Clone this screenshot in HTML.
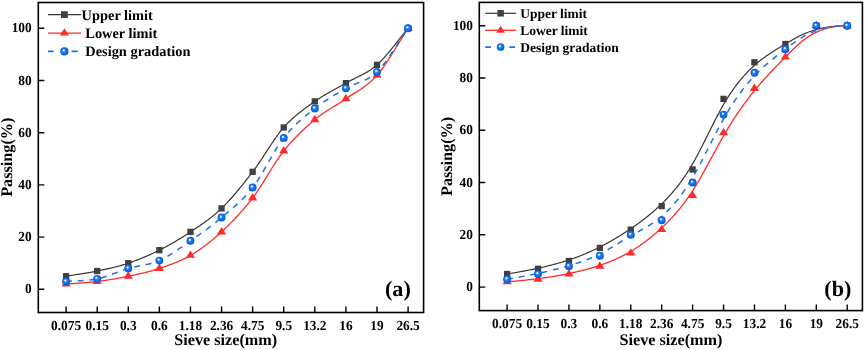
<!DOCTYPE html>
<html><head><meta charset="utf-8"><title>Gradation curves</title>
<style>html,body{margin:0;padding:0;background:#fff;}svg{display:block;text-rendering:geometricPrecision;will-change:transform;}</style>
</head><body>
<svg width="865" height="350" viewBox="0 0 865 350">
<defs>
<radialGradient id="ballg" cx="0.5" cy="0.5" r="0.5" fx="0.38" fy="0.34">
<stop offset="0" stop-color="#ffffff"/>
<stop offset="0.16" stop-color="#d8e8ff"/>
<stop offset="0.38" stop-color="#2a82f2"/>
<stop offset="0.8" stop-color="#0a66e6"/>
<stop offset="1" stop-color="#0556d2"/>
</radialGradient>
</defs>
<rect width="865" height="350" fill="#fff"/>
<path d="M66.10 276.25L66.88 276.12L67.65 275.99L68.43 275.87L69.21 275.74L69.99 275.62L70.76 275.49L71.54 275.37L72.32 275.25L73.10 275.13L73.87 275.01L74.65 274.89L75.43 274.77L76.20 274.65L76.98 274.53L77.76 274.41L78.54 274.29L79.31 274.17L80.09 274.05L80.87 273.93L81.64 273.80L82.42 273.68L83.20 273.56L83.98 273.43L84.75 273.31L85.53 273.18L86.31 273.05L87.09 272.92L87.86 272.79L88.64 272.65L89.42 272.52L90.19 272.38L90.97 272.24L91.75 272.10L92.53 271.95L93.30 271.81L94.08 271.66L94.86 271.51L95.64 271.35L96.41 271.19L97.19 271.03L97.97 270.87L98.74 270.70L99.52 270.54L100.30 270.38L101.08 270.21L101.85 270.05L102.63 269.88L103.41 269.71L104.19 269.55L104.96 269.38L105.74 269.21L106.52 269.04L107.29 268.86L108.07 268.69L108.85 268.51L109.63 268.34L110.40 268.16L111.18 267.97L111.96 267.79L112.73 267.60L113.51 267.42L114.29 267.22L115.07 267.03L115.84 266.83L116.62 266.63L117.40 266.43L118.18 266.22L118.95 266.01L119.73 265.80L120.51 265.59L121.28 265.37L122.06 265.14L122.84 264.91L123.62 264.68L124.39 264.45L125.17 264.21L125.95 263.96L126.73 263.71L127.50 263.46L128.28 263.20L129.06 262.94L129.83 262.67L130.61 262.40L131.39 262.13L132.17 261.85L132.94 261.58L133.72 261.29L134.50 261.01L135.28 260.72L136.05 260.43L136.83 260.13L137.61 259.83L138.38 259.53L139.16 259.23L139.94 258.92L140.72 258.61L141.49 258.29L142.27 257.97L143.05 257.65L143.82 257.33L144.60 257.00L145.38 256.67L146.16 256.33L146.93 256.00L147.71 255.66L148.49 255.31L149.27 254.96L150.04 254.61L150.82 254.26L151.60 253.90L152.37 253.54L153.15 253.18L153.93 252.81L154.71 252.44L155.48 252.07L156.26 251.69L157.04 251.31L157.82 250.93L158.59 250.54L159.37 250.15L160.15 249.76L160.92 249.36L161.70 248.96L162.48 248.56L163.26 248.15L164.03 247.74L164.81 247.33L165.59 246.91L166.37 246.49L167.14 246.07L167.92 245.65L168.70 245.22L169.47 244.78L170.25 244.35L171.03 243.91L171.81 243.47L172.58 243.02L173.36 242.57L174.14 242.12L174.92 241.67L175.69 241.21L176.47 240.75L177.25 240.28L178.02 239.81L178.80 239.34L179.58 238.87L180.36 238.39L181.13 237.91L181.91 237.42L182.69 236.94L183.46 236.45L184.24 235.95L185.02 235.45L185.80 234.95L186.57 234.45L187.35 233.94L188.13 233.43L188.91 232.92L189.68 232.40L190.46 231.88L191.24 231.36L192.01 230.84L192.79 230.32L193.57 229.80L194.35 229.28L195.12 228.76L195.90 228.24L196.68 227.72L197.46 227.20L198.23 226.68L199.01 226.16L199.79 225.63L200.56 225.10L201.34 224.56L202.12 224.03L202.90 223.49L203.67 222.94L204.45 222.39L205.23 221.84L206.00 221.28L206.78 220.71L207.56 220.14L208.34 219.56L209.11 218.98L209.89 218.38L210.67 217.78L211.45 217.18L212.22 216.56L213.00 215.94L213.78 215.30L214.55 214.66L215.33 214.01L216.11 213.34L216.89 212.67L217.66 211.99L218.44 211.29L219.22 210.58L220.00 209.87L220.77 209.13L221.55 208.39L222.33 207.63L223.10 206.87L223.88 206.09L224.66 205.30L225.44 204.50L226.21 203.69L226.99 202.87L227.77 202.04L228.55 201.20L229.32 200.36L230.10 199.50L230.88 198.63L231.65 197.76L232.43 196.88L233.21 195.99L233.99 195.09L234.76 194.18L235.54 193.27L236.32 192.35L237.09 191.43L237.87 190.49L238.65 189.55L239.43 188.61L240.20 187.66L240.98 186.70L241.76 185.74L242.54 184.77L243.31 183.80L244.09 182.82L244.87 181.84L245.64 180.86L246.42 179.87L247.20 178.88L247.98 177.88L248.75 176.88L249.53 175.88L250.31 174.88L251.09 173.87L251.86 172.86L252.64 171.85L253.42 170.83L254.19 169.79L254.97 168.73L255.75 167.65L256.53 166.55L257.30 165.44L258.08 164.32L258.86 163.18L259.64 162.04L260.41 160.88L261.19 159.71L261.97 158.54L262.74 157.36L263.52 156.17L264.30 154.98L265.08 153.79L265.85 152.59L266.63 151.40L267.41 150.20L268.19 149.01L268.96 147.82L269.74 146.64L270.52 145.46L271.29 144.29L272.07 143.12L272.85 141.97L273.63 140.83L274.40 139.69L275.18 138.58L275.96 137.47L276.73 136.38L277.51 135.31L278.29 134.26L279.07 133.22L279.84 132.21L280.62 131.21L281.40 130.24L282.18 129.30L282.95 128.37L283.73 127.48L284.51 126.61L285.28 125.75L286.06 124.92L286.84 124.09L287.62 123.29L288.39 122.50L289.17 121.73L289.95 120.97L290.73 120.22L291.50 119.49L292.28 118.77L293.06 118.06L293.83 117.37L294.61 116.68L295.39 116.01L296.17 115.35L296.94 114.70L297.72 114.06L298.50 113.42L299.27 112.80L300.05 112.18L300.83 111.57L301.61 110.97L302.38 110.38L303.16 109.79L303.94 109.21L304.72 108.63L305.49 108.06L306.27 107.49L307.05 106.93L307.82 106.37L308.60 105.81L309.38 105.25L310.16 104.70L310.93 104.14L311.71 103.59L312.49 103.04L313.27 102.49L314.04 101.93L314.82 101.38L315.60 100.83L316.37 100.29L317.15 99.76L317.93 99.24L318.71 98.72L319.48 98.22L320.26 97.72L321.04 97.22L321.82 96.74L322.59 96.26L323.37 95.79L324.15 95.32L324.92 94.86L325.70 94.41L326.48 93.96L327.26 93.51L328.03 93.07L328.81 92.63L329.59 92.19L330.37 91.76L331.14 91.32L331.92 90.90L332.70 90.47L333.47 90.04L334.25 89.62L335.03 89.19L335.81 88.77L336.58 88.34L337.36 87.92L338.14 87.49L338.91 87.07L339.69 86.64L340.47 86.21L341.25 85.78L342.02 85.34L342.80 84.90L343.58 84.46L344.36 84.01L345.13 83.56L345.91 83.11L346.69 82.66L347.46 82.22L348.24 81.79L349.02 81.37L349.80 80.95L350.57 80.54L351.35 80.14L352.13 79.75L352.91 79.36L353.68 78.97L354.46 78.59L355.24 78.20L356.01 77.82L356.79 77.44L357.57 77.06L358.35 76.68L359.12 76.29L359.90 75.91L360.68 75.51L361.46 75.12L362.23 74.71L363.01 74.31L363.79 73.89L364.56 73.46L365.34 73.03L366.12 72.59L366.90 72.13L367.67 71.66L368.45 71.18L369.23 70.69L370.00 70.19L370.78 69.66L371.56 69.13L372.34 68.57L373.11 68.00L373.89 67.41L374.67 66.80L375.45 66.17L376.22 65.51L377.00 64.84L377.78 64.14L378.55 63.43L379.33 62.69L380.11 61.93L380.89 61.15L381.66 60.35L382.44 59.53L383.22 58.70L384.00 57.85L384.77 56.99L385.55 56.11L386.33 55.22L387.10 54.32L387.88 53.40L388.66 52.48L389.44 51.54L390.21 50.59L390.99 49.64L391.77 48.68L392.54 47.71L393.32 46.74L394.10 45.76L394.88 44.78L395.65 43.79L396.43 42.81L397.21 41.82L397.99 40.83L398.76 39.84L399.54 38.85L400.32 37.86L401.09 36.88L401.87 35.90L402.65 34.93L403.43 33.96L404.20 32.99L404.98 32.04L405.76 31.09L406.54 30.15L407.31 29.22L408.09 28.30" fill="none" stroke="#363636" stroke-width="1.2"/>
<path d="M66.10 284.08L66.88 284.02L67.65 283.95L68.43 283.89L69.21 283.83L69.99 283.77L70.76 283.71L71.54 283.66L72.32 283.60L73.10 283.54L73.87 283.49L74.65 283.43L75.43 283.38L76.20 283.32L76.98 283.27L77.76 283.22L78.54 283.16L79.31 283.11L80.09 283.05L80.87 282.99L81.64 282.94L82.42 282.88L83.20 282.82L83.98 282.76L84.75 282.70L85.53 282.64L86.31 282.58L87.09 282.51L87.86 282.44L88.64 282.38L89.42 282.31L90.19 282.23L90.97 282.16L91.75 282.08L92.53 282.00L93.30 281.92L94.08 281.84L94.86 281.75L95.64 281.66L96.41 281.57L97.19 281.47L97.97 281.37L98.74 281.27L99.52 281.17L100.30 281.07L101.08 280.96L101.85 280.85L102.63 280.74L103.41 280.63L104.19 280.52L104.96 280.41L105.74 280.29L106.52 280.18L107.29 280.06L108.07 279.94L108.85 279.82L109.63 279.70L110.40 279.57L111.18 279.44L111.96 279.32L112.73 279.19L113.51 279.05L114.29 278.92L115.07 278.79L115.84 278.65L116.62 278.51L117.40 278.37L118.18 278.23L118.95 278.09L119.73 277.95L120.51 277.80L121.28 277.65L122.06 277.50L122.84 277.35L123.62 277.20L124.39 277.05L125.17 276.89L125.95 276.73L126.73 276.57L127.50 276.41L128.28 276.25L129.06 276.09L129.83 275.92L130.61 275.76L131.39 275.60L132.17 275.43L132.94 275.27L133.72 275.10L134.50 274.93L135.28 274.77L136.05 274.60L136.83 274.43L137.61 274.26L138.38 274.08L139.16 273.91L139.94 273.73L140.72 273.56L141.49 273.38L142.27 273.19L143.05 273.01L143.82 272.82L144.60 272.64L145.38 272.44L146.16 272.25L146.93 272.05L147.71 271.85L148.49 271.65L149.27 271.44L150.04 271.23L150.82 271.02L151.60 270.81L152.37 270.59L153.15 270.36L153.93 270.13L154.71 269.90L155.48 269.67L156.26 269.43L157.04 269.18L157.82 268.93L158.59 268.68L159.37 268.42L160.15 268.16L160.92 267.90L161.70 267.64L162.48 267.37L163.26 267.11L164.03 266.85L164.81 266.58L165.59 266.31L166.37 266.04L167.14 265.77L167.92 265.49L168.70 265.22L169.47 264.94L170.25 264.65L171.03 264.37L171.81 264.08L172.58 263.78L173.36 263.48L174.14 263.18L174.92 262.87L175.69 262.56L176.47 262.24L177.25 261.92L178.02 261.59L178.80 261.26L179.58 260.92L180.36 260.57L181.13 260.22L181.91 259.86L182.69 259.49L183.46 259.11L184.24 258.73L185.02 258.34L185.80 257.94L186.57 257.54L187.35 257.12L188.13 256.70L188.91 256.26L189.68 255.82L190.46 255.37L191.24 254.91L192.01 254.44L192.79 253.97L193.57 253.49L194.35 253.00L195.12 252.51L195.90 252.01L196.68 251.51L197.46 250.99L198.23 250.48L199.01 249.95L199.79 249.42L200.56 248.88L201.34 248.34L202.12 247.78L202.90 247.23L203.67 246.66L204.45 246.09L205.23 245.51L206.00 244.93L206.78 244.34L207.56 243.74L208.34 243.14L209.11 242.53L209.89 241.91L210.67 241.29L211.45 240.66L212.22 240.02L213.00 239.38L213.78 238.73L214.55 238.08L215.33 237.41L216.11 236.74L216.89 236.07L217.66 235.39L218.44 234.70L219.22 234.00L220.00 233.30L220.77 232.59L221.55 231.88L222.33 231.16L223.10 230.43L223.88 229.70L224.66 228.97L225.44 228.23L226.21 227.48L226.99 226.73L227.77 225.97L228.55 225.21L229.32 224.44L230.10 223.66L230.88 222.88L231.65 222.09L232.43 221.30L233.21 220.49L233.99 219.69L234.76 218.87L235.54 218.05L236.32 217.22L237.09 216.38L237.87 215.54L238.65 214.69L239.43 213.83L240.20 212.96L240.98 212.09L241.76 211.21L242.54 210.32L243.31 209.42L244.09 208.51L244.87 207.59L245.64 206.67L246.42 205.74L247.20 204.80L247.98 203.85L248.75 202.89L249.53 201.92L250.31 200.94L251.09 199.95L251.86 198.96L252.64 197.95L253.42 196.93L254.19 195.88L254.97 194.80L255.75 193.71L256.53 192.59L257.30 191.46L258.08 190.31L258.86 189.14L259.64 187.95L260.41 186.76L261.19 185.54L261.97 184.32L262.74 183.09L263.52 181.85L264.30 180.60L265.08 179.35L265.85 178.09L266.63 176.83L267.41 175.56L268.19 174.30L268.96 173.03L269.74 171.77L270.52 170.51L271.29 169.26L272.07 168.01L272.85 166.77L273.63 165.54L274.40 164.32L275.18 163.12L275.96 161.92L276.73 160.74L277.51 159.57L278.29 158.42L279.07 157.29L279.84 156.18L280.62 155.09L281.40 154.02L282.18 152.98L282.95 151.96L283.73 150.97L284.51 150.00L285.28 149.04L286.06 148.09L286.84 147.16L287.62 146.23L288.39 145.32L289.17 144.42L289.95 143.54L290.73 142.66L291.50 141.79L292.28 140.94L293.06 140.09L293.83 139.26L294.61 138.43L295.39 137.62L296.17 136.81L296.94 136.02L297.72 135.23L298.50 134.45L299.27 133.68L300.05 132.92L300.83 132.16L301.61 131.41L302.38 130.67L303.16 129.94L303.94 129.22L304.72 128.50L305.49 127.79L306.27 127.08L307.05 126.38L307.82 125.68L308.60 125.00L309.38 124.31L310.16 123.63L310.93 122.96L311.71 122.29L312.49 121.62L313.27 120.96L314.04 120.30L314.82 119.65L315.60 119.00L316.37 118.37L317.15 117.76L317.93 117.15L318.71 116.56L319.48 115.98L320.26 115.41L321.04 114.85L321.82 114.30L322.59 113.76L323.37 113.23L324.15 112.70L324.92 112.18L325.70 111.67L326.48 111.17L327.26 110.67L328.03 110.18L328.81 109.69L329.59 109.20L330.37 108.72L331.14 108.24L331.92 107.76L332.70 107.29L333.47 106.81L334.25 106.33L335.03 105.86L335.81 105.38L336.58 104.90L337.36 104.41L338.14 103.93L338.91 103.44L339.69 102.95L340.47 102.45L341.25 101.94L342.02 101.43L342.80 100.92L343.58 100.39L344.36 99.86L345.13 99.32L345.91 98.77L346.69 98.22L347.46 97.68L348.24 97.15L349.02 96.63L349.80 96.12L350.57 95.61L351.35 95.11L352.13 94.61L352.91 94.12L353.68 93.63L354.46 93.14L355.24 92.65L356.01 92.17L356.79 91.68L357.57 91.18L358.35 90.69L359.12 90.19L359.90 89.69L360.68 89.17L361.46 88.66L362.23 88.13L363.01 87.59L363.79 87.05L364.56 86.49L365.34 85.92L366.12 85.34L366.90 84.75L367.67 84.14L368.45 83.51L369.23 82.87L370.00 82.20L370.78 81.52L371.56 80.82L372.34 80.10L373.11 79.36L373.89 78.59L374.67 77.80L375.45 76.99L376.22 76.15L377.00 75.28L377.78 74.38L378.55 73.46L379.33 72.51L380.11 71.53L380.89 70.53L381.66 69.51L382.44 68.46L383.22 67.39L384.00 66.30L384.77 65.19L385.55 64.06L386.33 62.91L387.10 61.75L387.88 60.57L388.66 59.38L389.44 58.18L390.21 56.96L390.99 55.74L391.77 54.50L392.54 53.26L393.32 52.01L394.10 50.75L394.88 49.49L395.65 48.22L396.43 46.95L397.21 45.68L397.99 44.41L398.76 43.13L399.54 41.86L400.32 40.60L401.09 39.33L401.87 38.07L402.65 36.82L403.43 35.57L404.20 34.33L404.98 33.10L405.76 31.88L406.54 30.68L407.31 29.48L408.09 28.30" fill="none" stroke="#ff2b2b" stroke-width="1.3"/>
<path d="M66.10 281.47L66.88 281.41L67.65 281.35L68.43 281.29L69.21 281.24L69.99 281.20L70.76 281.15L71.54 281.11L72.32 281.07L73.10 281.04L73.87 281.00L74.65 280.97L75.43 280.93L76.20 280.90L76.98 280.87L77.76 280.84L78.54 280.80L79.31 280.77L80.09 280.73L80.87 280.69L81.64 280.65L82.42 280.61L83.20 280.57L83.98 280.52L84.75 280.47L85.53 280.41L86.31 280.35L87.09 280.29L87.86 280.22L88.64 280.14L89.42 280.06L90.19 279.98L90.97 279.88L91.75 279.78L92.53 279.68L93.30 279.56L94.08 279.44L94.86 279.31L95.64 279.17L96.41 279.02L97.19 278.86L97.97 278.69L98.74 278.51L99.52 278.32L100.30 278.12L101.08 277.91L101.85 277.69L102.63 277.47L103.41 277.23L104.19 276.99L104.96 276.74L105.74 276.48L106.52 276.22L107.29 275.95L108.07 275.68L108.85 275.40L109.63 275.12L110.40 274.84L111.18 274.55L111.96 274.26L112.73 273.97L113.51 273.67L114.29 273.38L115.07 273.08L115.84 272.78L116.62 272.49L117.40 272.19L118.18 271.90L118.95 271.61L119.73 271.32L120.51 271.03L121.28 270.75L122.06 270.47L122.84 270.19L123.62 269.92L124.39 269.65L125.17 269.39L125.95 269.14L126.73 268.89L127.50 268.65L128.28 268.42L129.06 268.20L129.83 267.98L130.61 267.78L131.39 267.59L132.17 267.40L132.94 267.22L133.72 267.05L134.50 266.88L135.28 266.72L136.05 266.56L136.83 266.41L137.61 266.26L138.38 266.11L139.16 265.96L139.94 265.82L140.72 265.68L141.49 265.53L142.27 265.39L143.05 265.24L143.82 265.09L144.60 264.94L145.38 264.79L146.16 264.63L146.93 264.46L147.71 264.29L148.49 264.11L149.27 263.93L150.04 263.74L150.82 263.54L151.60 263.33L152.37 263.11L153.15 262.88L153.93 262.64L154.71 262.39L155.48 262.13L156.26 261.85L157.04 261.56L157.82 261.25L158.59 260.93L159.37 260.59L160.15 260.24L160.92 259.87L161.70 259.50L162.48 259.11L163.26 258.71L164.03 258.30L164.81 257.88L165.59 257.45L166.37 257.00L167.14 256.55L167.92 256.10L168.70 255.63L169.47 255.15L170.25 254.67L171.03 254.18L171.81 253.68L172.58 253.18L173.36 252.67L174.14 252.15L174.92 251.63L175.69 251.11L176.47 250.58L177.25 250.05L178.02 249.51L178.80 248.97L179.58 248.43L180.36 247.88L181.13 247.33L181.91 246.78L182.69 246.23L183.46 245.68L184.24 245.13L185.02 244.58L185.80 244.03L186.57 243.48L187.35 242.93L188.13 242.38L188.91 241.84L189.68 241.29L190.46 240.75L191.24 240.22L192.01 239.68L192.79 239.14L193.57 238.60L194.35 238.06L195.12 237.52L195.90 236.98L196.68 236.43L197.46 235.89L198.23 235.34L199.01 234.80L199.79 234.25L200.56 233.70L201.34 233.14L202.12 232.59L202.90 232.03L203.67 231.47L204.45 230.91L205.23 230.34L206.00 229.78L206.78 229.20L207.56 228.63L208.34 228.05L209.11 227.47L209.89 226.88L210.67 226.29L211.45 225.70L212.22 225.10L213.00 224.50L213.78 223.89L214.55 223.28L215.33 222.66L216.11 222.04L216.89 221.41L217.66 220.78L218.44 220.14L219.22 219.49L220.00 218.84L220.77 218.19L221.55 217.53L222.33 216.86L223.10 216.20L223.88 215.54L224.66 214.89L225.44 214.23L226.21 213.58L226.99 212.92L227.77 212.27L228.55 211.61L229.32 210.96L230.10 210.30L230.88 209.64L231.65 208.97L232.43 208.30L233.21 207.63L233.99 206.95L234.76 206.26L235.54 205.57L236.32 204.87L237.09 204.17L237.87 203.45L238.65 202.73L239.43 201.99L240.20 201.25L240.98 200.50L241.76 199.73L242.54 198.96L243.31 198.17L244.09 197.36L244.87 196.55L245.64 195.72L246.42 194.87L247.20 194.01L247.98 193.14L248.75 192.24L249.53 191.33L250.31 190.41L251.09 189.46L251.86 188.50L252.64 187.51L253.42 186.50L254.19 185.45L254.97 184.37L255.75 183.25L256.53 182.11L257.30 180.94L258.08 179.74L258.86 178.52L259.64 177.28L260.41 176.02L261.19 174.74L261.97 173.44L262.74 172.13L263.52 170.80L264.30 169.46L265.08 168.12L265.85 166.77L266.63 165.41L267.41 164.05L268.19 162.68L268.96 161.32L269.74 159.96L270.52 158.60L271.29 157.25L272.07 155.90L272.85 154.57L273.63 153.25L274.40 151.94L275.18 150.64L275.96 149.36L276.73 148.10L277.51 146.86L278.29 145.65L279.07 144.46L279.84 143.29L280.62 142.15L281.40 141.05L282.18 139.97L282.95 138.93L283.73 137.92L284.51 136.94L285.28 135.98L286.06 135.04L286.84 134.11L287.62 133.21L288.39 132.32L289.17 131.44L289.95 130.58L290.73 129.74L291.50 128.91L292.28 128.10L293.06 127.30L293.83 126.51L294.61 125.74L295.39 124.98L296.17 124.22L296.94 123.49L297.72 122.76L298.50 122.04L299.27 121.33L300.05 120.63L300.83 119.94L301.61 119.26L302.38 118.58L303.16 117.92L303.94 117.25L304.72 116.60L305.49 115.95L306.27 115.31L307.05 114.67L307.82 114.03L308.60 113.40L309.38 112.77L310.16 112.15L310.93 111.53L311.71 110.91L312.49 110.29L313.27 109.67L314.04 109.05L314.82 108.43L315.60 107.81L316.37 107.21L317.15 106.61L317.93 106.02L318.71 105.44L319.48 104.87L320.26 104.30L321.04 103.75L321.82 103.20L322.59 102.66L323.37 102.12L324.15 101.59L324.92 101.07L325.70 100.55L326.48 100.04L327.26 99.54L328.03 99.04L328.81 98.54L329.59 98.05L330.37 97.56L331.14 97.08L331.92 96.60L332.70 96.13L333.47 95.65L334.25 95.19L335.03 94.72L335.81 94.26L336.58 93.79L337.36 93.34L338.14 92.88L338.91 92.42L339.69 91.97L340.47 91.51L341.25 91.06L342.02 90.60L342.80 90.15L343.58 89.70L344.36 89.24L345.13 88.79L345.91 88.33L346.69 87.88L347.46 87.46L348.24 87.05L349.02 86.66L349.80 86.29L350.57 85.93L351.35 85.58L352.13 85.24L352.91 84.92L353.68 84.60L354.46 84.29L355.24 83.98L356.01 83.68L356.79 83.39L357.57 83.09L358.35 82.79L359.12 82.49L359.90 82.19L360.68 81.89L361.46 81.58L362.23 81.26L363.01 80.93L363.79 80.59L364.56 80.24L365.34 79.88L366.12 79.50L366.90 79.11L367.67 78.70L368.45 78.27L369.23 77.82L370.00 77.35L370.78 76.85L371.56 76.33L372.34 75.79L373.11 75.22L373.89 74.61L374.67 73.98L375.45 73.32L376.22 72.62L377.00 71.89L377.78 71.12L378.55 70.32L379.33 69.49L380.11 68.63L380.89 67.74L381.66 66.82L382.44 65.88L383.22 64.91L384.00 63.91L384.77 62.90L385.55 61.86L386.33 60.81L387.10 59.73L387.88 58.64L388.66 57.53L389.44 56.41L390.21 55.27L390.99 54.12L391.77 52.96L392.54 51.79L393.32 50.61L394.10 49.43L394.88 48.23L395.65 47.04L396.43 45.84L397.21 44.64L397.99 43.43L398.76 42.23L399.54 41.03L400.32 39.83L401.09 38.64L401.87 37.45L402.65 36.27L403.43 35.10L404.20 33.93L404.98 32.78L405.76 31.64L406.54 30.51L407.31 29.40L408.09 28.30" fill="none" stroke="#1a72e6" stroke-width="1.5" stroke-dasharray="5.9 5.8"/>
<rect x="62.95" y="273.10" width="6.30" height="6.30" fill="#404040"/>
<rect x="94.04" y="267.88" width="6.30" height="6.30" fill="#404040"/>
<rect x="125.13" y="260.05" width="6.30" height="6.30" fill="#404040"/>
<rect x="156.22" y="247.00" width="6.30" height="6.30" fill="#404040"/>
<rect x="187.31" y="228.73" width="6.30" height="6.30" fill="#404040"/>
<rect x="218.40" y="205.24" width="6.30" height="6.30" fill="#404040"/>
<rect x="249.49" y="168.70" width="6.30" height="6.30" fill="#404040"/>
<rect x="280.58" y="124.33" width="6.30" height="6.30" fill="#404040"/>
<rect x="311.67" y="98.23" width="6.30" height="6.30" fill="#404040"/>
<rect x="342.76" y="79.96" width="6.30" height="6.30" fill="#404040"/>
<rect x="373.85" y="61.69" width="6.30" height="6.30" fill="#404040"/>
<rect x="404.94" y="25.15" width="6.30" height="6.30" fill="#404040"/>
<path d="M66.10 279.18L70.70 286.58L61.50 286.58Z" fill="#ff2b2b"/>
<path d="M97.19 276.57L101.79 283.97L92.59 283.97Z" fill="#ff2b2b"/>
<path d="M128.28 271.35L132.88 278.75L123.68 278.75Z" fill="#ff2b2b"/>
<path d="M159.37 263.52L163.97 270.92L154.77 270.92Z" fill="#ff2b2b"/>
<path d="M190.46 250.47L195.06 257.87L185.86 257.87Z" fill="#ff2b2b"/>
<path d="M221.55 226.98L226.15 234.38L216.95 234.38Z" fill="#ff2b2b"/>
<path d="M252.64 193.05L257.24 200.45L248.04 200.45Z" fill="#ff2b2b"/>
<path d="M283.73 146.07L288.33 153.47L279.13 153.47Z" fill="#ff2b2b"/>
<path d="M314.82 114.75L319.42 122.15L310.22 122.15Z" fill="#ff2b2b"/>
<path d="M345.91 93.87L350.51 101.27L341.31 101.27Z" fill="#ff2b2b"/>
<path d="M377.00 70.38L381.60 77.78L372.40 77.78Z" fill="#ff2b2b"/>
<path d="M408.09 23.40L412.69 30.80L403.49 30.80Z" fill="#ff2b2b"/>
<circle cx="66.10" cy="281.47" r="3.95" fill="url(#ballg)"/>
<circle cx="97.19" cy="278.86" r="3.95" fill="url(#ballg)"/>
<circle cx="128.28" cy="268.42" r="3.95" fill="url(#ballg)"/>
<circle cx="159.37" cy="260.59" r="3.95" fill="url(#ballg)"/>
<circle cx="190.46" cy="240.75" r="3.95" fill="url(#ballg)"/>
<circle cx="221.55" cy="217.53" r="3.95" fill="url(#ballg)"/>
<circle cx="252.64" cy="187.51" r="3.95" fill="url(#ballg)"/>
<circle cx="283.73" cy="137.92" r="3.95" fill="url(#ballg)"/>
<circle cx="314.82" cy="108.43" r="3.95" fill="url(#ballg)"/>
<circle cx="345.91" cy="88.33" r="3.95" fill="url(#ballg)"/>
<circle cx="377.00" cy="71.89" r="3.95" fill="url(#ballg)"/>
<circle cx="408.09" cy="28.30" r="3.95" fill="url(#ballg)"/>
<rect x="38.30" y="2.50" width="385.30" height="310.00" fill="none" stroke="#000" stroke-width="1.6"/>
<path d="M66.10 312.50V306.50M97.19 312.50V306.50M128.28 312.50V306.50M159.37 312.50V306.50M190.46 312.50V306.50M221.55 312.50V306.50M252.64 312.50V306.50M283.73 312.50V306.50M314.82 312.50V306.50M345.91 312.50V306.50M377.00 312.50V306.50M408.09 312.50V306.50M38.30 289.30H44.30M38.30 237.10H44.30M38.30 184.90H44.30M38.30 132.70H44.30M38.30 80.50H44.30M38.30 28.30H44.30" stroke="#000" stroke-width="1.4" fill="none"/>
<text transform="translate(66.10 329.80) scale(1 1.035)" text-anchor="middle" font-size="13.35" style="font-family:'Liberation Serif',serif;font-weight:bold">0.075</text>
<text transform="translate(97.19 329.80) scale(1 1.035)" text-anchor="middle" font-size="13.35" style="font-family:'Liberation Serif',serif;font-weight:bold">0.15</text>
<text transform="translate(128.28 329.80) scale(1 1.035)" text-anchor="middle" font-size="13.35" style="font-family:'Liberation Serif',serif;font-weight:bold">0.3</text>
<text transform="translate(159.37 329.80) scale(1 1.035)" text-anchor="middle" font-size="13.35" style="font-family:'Liberation Serif',serif;font-weight:bold">0.6</text>
<text transform="translate(190.46 329.80) scale(1 1.035)" text-anchor="middle" font-size="13.35" style="font-family:'Liberation Serif',serif;font-weight:bold">1.18</text>
<text transform="translate(221.55 329.80) scale(1 1.035)" text-anchor="middle" font-size="13.35" style="font-family:'Liberation Serif',serif;font-weight:bold">2.36</text>
<text transform="translate(252.64 329.80) scale(1 1.035)" text-anchor="middle" font-size="13.35" style="font-family:'Liberation Serif',serif;font-weight:bold">4.75</text>
<text transform="translate(283.73 329.80) scale(1 1.035)" text-anchor="middle" font-size="13.35" style="font-family:'Liberation Serif',serif;font-weight:bold">9.5</text>
<text transform="translate(314.82 329.80) scale(1 1.035)" text-anchor="middle" font-size="13.35" style="font-family:'Liberation Serif',serif;font-weight:bold">13.2</text>
<text transform="translate(345.91 329.80) scale(1 1.035)" text-anchor="middle" font-size="13.35" style="font-family:'Liberation Serif',serif;font-weight:bold">16</text>
<text transform="translate(377.00 329.80) scale(1 1.035)" text-anchor="middle" font-size="13.35" style="font-family:'Liberation Serif',serif;font-weight:bold">19</text>
<text transform="translate(408.09 329.80) scale(1 1.035)" text-anchor="middle" font-size="13.35" style="font-family:'Liberation Serif',serif;font-weight:bold">26.5</text>
<text transform="translate(31.70 293.40) scale(1 1.035)" text-anchor="end" font-size="13.35" style="font-family:'Liberation Serif',serif;font-weight:bold">0</text>
<text transform="translate(31.70 241.20) scale(1 1.035)" text-anchor="end" font-size="13.35" style="font-family:'Liberation Serif',serif;font-weight:bold">20</text>
<text transform="translate(31.70 189.00) scale(1 1.035)" text-anchor="end" font-size="13.35" style="font-family:'Liberation Serif',serif;font-weight:bold">40</text>
<text transform="translate(31.70 136.80) scale(1 1.035)" text-anchor="end" font-size="13.35" style="font-family:'Liberation Serif',serif;font-weight:bold">60</text>
<text transform="translate(31.70 84.60) scale(1 1.035)" text-anchor="end" font-size="13.35" style="font-family:'Liberation Serif',serif;font-weight:bold">80</text>
<text transform="translate(31.70 32.40) scale(1 1.035)" text-anchor="end" font-size="13.35" style="font-family:'Liberation Serif',serif;font-weight:bold">100</text>
<text transform="translate(12.40 157.20) rotate(-90)" text-anchor="middle" font-size="16.2" style="font-family:'Liberation Serif',serif;font-weight:bold">Passing(%)</text>
<text x="174.30" y="345.20" font-size="16.2" style="font-family:'Liberation Serif',serif;font-weight:bold">Sieve size(mm)</text>
<text x="385.00" y="295.90" font-size="22.1" style="font-family:'Liberation Serif',serif;font-weight:bold">(a)</text>
<path d="M47.90 14.60H81.00" stroke="#363636" stroke-width="1.2"/>
<rect x="61.00" y="11.20" width="6.80" height="6.80" fill="#404040"/>
<path d="M47.90 33.10H81.00" stroke="#ff2b2b" stroke-width="1.3"/>
<path d="M64.40 28.20L69.00 35.60L59.80 35.60Z" fill="#ff2b2b"/>
<path d="M47.90 51.40H53.60M71.70 51.40H77.80" stroke="#1a72e6" stroke-width="1.6"/>
<circle cx="64.40" cy="51.40" r="4.10" fill="url(#ballg)"/>
<text x="81.60" y="20.10" font-size="14.4" style="font-family:'Liberation Serif',serif;font-weight:bold">Upper limit</text>
<text x="85.30" y="37.90" font-size="14.4" style="font-family:'Liberation Serif',serif;font-weight:bold">Lower limit</text>
<text x="85.30" y="56.20" font-size="14.4" style="font-family:'Liberation Serif',serif;font-weight:bold">Design gradation</text>
<path d="M507.10 274.03L509.39 273.64L511.62 273.26L513.80 272.88L515.93 272.50L518.00 272.13L520.01 271.76L521.98 271.40L523.90 271.04L525.77 270.68L527.59 270.33L529.37 269.98L531.10 269.64L532.79 269.29L534.44 268.96L536.04 268.62L537.61 268.29L539.13 267.96L540.62 267.63L542.08 267.30L543.50 266.98L544.88 266.66L546.23 266.34L547.55 266.02L548.84 265.70L550.10 265.39L551.34 265.07L552.54 264.76L553.72 264.45L554.88 264.14L556.02 263.83L557.13 263.52L558.22 263.21L559.29 262.90L560.35 262.60L561.39 262.29L562.41 261.98L563.42 261.67L564.41 261.36L565.39 261.05L566.36 260.74L567.32 260.43L568.28 260.12L569.22 259.81L570.15 259.49L571.08 259.18L572.00 258.86L572.90 258.55L573.80 258.23L574.70 257.91L575.58 257.59L576.46 257.26L577.33 256.94L578.20 256.62L579.05 256.29L579.91 255.96L580.75 255.63L581.59 255.30L582.43 254.96L583.25 254.63L584.08 254.29L584.90 253.95L585.71 253.61L586.52 253.26L587.33 252.92L588.13 252.57L588.93 252.22L589.72 251.86L590.51 251.51L591.30 251.15L592.09 250.79L592.87 250.42L593.66 250.06L594.44 249.69L595.21 249.31L595.99 248.94L596.77 248.56L597.54 248.18L598.31 247.80L599.09 247.41L599.86 247.02L600.63 246.62L601.41 246.23L602.18 245.83L602.95 245.42L603.73 245.02L604.50 244.61L605.27 244.19L606.04 243.78L606.82 243.36L607.59 242.93L608.36 242.51L609.14 242.08L609.91 241.65L610.68 241.21L611.45 240.77L612.23 240.33L613.00 239.88L613.77 239.43L614.55 238.98L615.32 238.52L616.09 238.06L616.87 237.60L617.64 237.14L618.41 236.67L619.18 236.20L619.96 235.72L620.73 235.24L621.50 234.76L622.28 234.27L623.05 233.79L623.82 233.29L624.60 232.80L625.37 232.30L626.14 231.80L626.92 231.29L627.69 230.79L628.46 230.27L629.23 229.76L630.01 229.24L630.78 228.72L631.55 228.20L632.33 227.67L633.10 227.14L633.87 226.60L634.64 226.06L635.42 225.52L636.19 224.97L636.96 224.42L637.74 223.87L638.51 223.31L639.28 222.75L640.06 222.18L640.83 221.60L641.60 221.03L642.37 220.44L643.15 219.85L643.92 219.26L644.69 218.66L645.47 218.06L646.24 217.45L647.01 216.83L647.79 216.21L648.56 215.58L649.33 214.95L650.10 214.31L650.88 213.66L651.65 213.01L652.42 212.35L653.20 211.69L653.97 211.01L654.74 210.34L655.52 209.65L656.29 208.96L657.06 208.25L657.84 207.55L658.61 206.83L659.38 206.11L660.15 205.37L660.93 204.64L661.70 203.89L662.47 203.13L663.25 202.37L664.02 201.59L664.79 200.81L665.57 200.02L666.34 199.22L667.11 198.41L667.88 197.59L668.66 196.75L669.43 195.91L670.20 195.05L670.98 194.19L671.75 193.31L672.52 192.42L673.30 191.51L674.07 190.59L674.84 189.66L675.61 188.72L676.39 187.76L677.16 186.79L677.93 185.80L678.71 184.80L679.48 183.78L680.25 182.75L681.02 181.70L681.80 180.63L682.57 179.55L683.34 178.45L684.12 177.33L684.89 176.20L685.66 175.04L686.44 173.87L687.21 172.68L687.98 171.47L688.76 170.25L689.53 169.00L690.30 167.73L691.07 166.44L691.85 165.14L692.62 163.81L693.39 162.46L694.17 161.09L694.94 159.70L695.71 158.29L696.49 156.86L697.26 155.42L698.03 153.97L698.80 152.50L699.58 151.02L700.35 149.52L701.12 148.02L701.90 146.51L702.67 144.98L703.44 143.46L704.22 141.92L704.99 140.38L705.76 138.83L706.53 137.28L707.31 135.73L708.08 134.18L708.85 132.63L709.63 131.08L710.40 129.53L711.17 127.98L711.95 126.44L712.72 124.91L713.49 123.38L714.26 121.86L715.04 120.34L715.81 118.84L716.58 117.34L717.36 115.86L718.13 114.39L718.90 112.94L719.67 111.50L720.45 110.07L721.22 108.67L721.99 107.28L722.77 105.91L723.54 104.56L724.31 103.23L725.09 101.92L725.86 100.63L726.63 99.36L727.41 98.12L728.18 96.89L728.95 95.68L729.72 94.50L730.50 93.33L731.27 92.18L732.04 91.05L732.82 89.94L733.59 88.84L734.36 87.77L735.13 86.71L735.91 85.67L736.68 84.65L737.45 83.64L738.23 82.66L739.00 81.68L739.77 80.73L740.55 79.79L741.32 78.86L742.09 77.96L742.87 77.06L743.64 76.18L744.41 75.32L745.18 74.47L745.96 73.64L746.73 72.82L747.50 72.01L748.28 71.22L749.05 70.44L749.82 69.68L750.60 68.92L751.37 68.18L752.14 67.46L752.91 66.74L753.69 66.04L754.46 65.35L755.23 64.67L756.01 64.00L756.78 63.34L757.55 62.69L758.33 62.05L759.11 61.42L759.88 60.80L760.66 60.19L761.45 59.58L762.23 58.98L763.02 58.39L763.81 57.81L764.60 57.23L765.39 56.66L766.19 56.10L766.99 55.54L767.80 54.98L768.61 54.43L769.42 53.88L770.24 53.34L771.07 52.80L771.89 52.26L772.73 51.72L773.57 51.18L774.41 50.65L775.27 50.11L776.12 49.58L776.99 49.05L777.86 48.51L778.74 47.98L779.62 47.44L780.52 46.90L781.42 46.36L782.32 45.82L783.24 45.27L784.17 44.72L785.10 44.16L786.04 43.61L787.00 43.04L787.96 42.47L788.93 41.90L789.91 41.32L790.90 40.74L791.91 40.15L792.93 39.56L793.97 38.98L795.03 38.39L796.10 37.80L797.19 37.22L798.30 36.64L799.44 36.06L800.60 35.49L801.78 34.92L802.98 34.37L804.22 33.82L805.48 33.28L806.77 32.75L808.09 32.23L809.44 31.72L810.82 31.23L812.24 30.75L813.70 30.29L815.19 29.84L816.71 29.41L818.28 29.00L819.88 28.60L821.53 28.23L823.22 27.88L824.95 27.55L826.73 27.25L828.55 26.97L830.42 26.71L832.34 26.48L834.31 26.28L836.32 26.11L838.39 25.96L840.52 25.85L842.70 25.77L844.93 25.72L847.22 25.70" fill="none" stroke="#363636" stroke-width="1.2"/>
<path d="M507.10 281.87L509.39 281.68L511.62 281.48L513.80 281.28L515.93 281.09L518.00 280.89L520.01 280.70L521.98 280.50L523.90 280.30L525.77 280.11L527.59 279.91L529.37 279.72L531.10 279.52L532.79 279.32L534.44 279.13L536.04 278.93L537.61 278.74L539.13 278.54L540.62 278.34L542.08 278.15L543.50 277.95L544.88 277.75L546.23 277.56L547.55 277.36L548.84 277.17L550.10 276.97L551.34 276.77L552.54 276.58L553.72 276.38L554.88 276.19L556.02 275.99L557.13 275.79L558.22 275.60L559.29 275.40L560.35 275.21L561.39 275.01L562.41 274.81L563.42 274.62L564.41 274.42L565.39 274.23L566.36 274.03L567.32 273.83L568.28 273.64L569.22 273.44L570.15 273.24L571.08 273.05L572.00 272.85L572.90 272.65L573.80 272.45L574.70 272.26L575.58 272.06L576.46 271.86L577.33 271.65L578.20 271.45L579.05 271.25L579.91 271.04L580.75 270.84L581.59 270.63L582.43 270.42L583.25 270.21L584.08 270.00L584.90 269.79L585.71 269.57L586.52 269.36L587.33 269.14L588.13 268.92L588.93 268.69L589.72 268.47L590.51 268.24L591.30 268.01L592.09 267.78L592.87 267.55L593.66 267.31L594.44 267.07L595.21 266.83L595.99 266.58L596.77 266.34L597.54 266.09L598.31 265.83L599.09 265.58L599.86 265.32L600.63 265.05L601.41 264.79L602.18 264.52L602.95 264.24L603.73 263.97L604.50 263.69L605.27 263.40L606.04 263.11L606.82 262.82L607.59 262.53L608.36 262.23L609.14 261.92L609.91 261.61L610.68 261.30L611.45 260.98L612.23 260.66L613.00 260.33L613.77 260.00L614.55 259.67L615.32 259.33L616.09 258.98L616.87 258.63L617.64 258.27L618.41 257.91L619.18 257.55L619.96 257.18L620.73 256.80L621.50 256.42L622.28 256.03L623.05 255.64L623.82 255.24L624.60 254.83L625.37 254.42L626.14 254.01L626.92 253.58L627.69 253.15L628.46 252.72L629.23 252.28L630.01 251.83L630.78 251.38L631.55 250.91L632.33 250.45L633.10 249.97L633.87 249.49L634.64 249.01L635.42 248.51L636.19 248.01L636.96 247.51L637.74 246.99L638.51 246.47L639.28 245.95L640.06 245.42L640.83 244.88L641.60 244.33L642.37 243.78L643.15 243.22L643.92 242.65L644.69 242.08L645.47 241.50L646.24 240.92L647.01 240.33L647.79 239.73L648.56 239.13L649.33 238.51L650.10 237.90L650.88 237.27L651.65 236.64L652.42 236.01L653.20 235.36L653.97 234.71L654.74 234.05L655.52 233.39L656.29 232.72L657.06 232.04L657.84 231.36L658.61 230.67L659.38 229.98L660.15 229.27L660.93 228.56L661.70 227.85L662.47 227.13L663.25 226.40L664.02 225.66L664.79 224.92L665.57 224.17L666.34 223.41L667.11 222.64L667.88 221.87L668.66 221.08L669.43 220.29L670.20 219.48L670.98 218.67L671.75 217.85L672.52 217.01L673.30 216.17L674.07 215.32L674.84 214.45L675.61 213.57L676.39 212.68L677.16 211.78L677.93 210.87L678.71 209.95L679.48 209.01L680.25 208.06L681.02 207.09L681.80 206.11L682.57 205.12L683.34 204.11L684.12 203.09L684.89 202.06L685.66 201.01L686.44 199.94L687.21 198.86L687.98 197.76L688.76 196.64L689.53 195.51L690.30 194.37L691.07 193.20L691.85 192.02L692.62 190.82L693.39 189.60L694.17 188.36L694.94 187.11L695.71 185.85L696.49 184.56L697.26 183.27L698.03 181.96L698.80 180.63L699.58 179.30L700.35 177.95L701.12 176.59L701.90 175.23L702.67 173.85L703.44 172.47L704.22 171.07L704.99 169.68L705.76 168.27L706.53 166.86L707.31 165.44L708.08 164.02L708.85 162.60L709.63 161.18L710.40 159.75L711.17 158.32L711.95 156.89L712.72 155.46L713.49 154.04L714.26 152.61L715.04 151.19L715.81 149.77L716.58 148.35L717.36 146.94L718.13 145.54L718.90 144.14L719.67 142.75L720.45 141.37L721.22 139.99L721.99 138.62L722.77 137.27L723.54 135.92L724.31 134.59L725.09 133.27L725.86 131.96L726.63 130.66L727.41 129.37L728.18 128.09L728.95 126.82L729.72 125.57L730.50 124.32L731.27 123.09L732.04 121.86L732.82 120.65L733.59 119.44L734.36 118.25L735.13 117.07L735.91 115.90L736.68 114.73L737.45 113.58L738.23 112.44L739.00 111.31L739.77 110.19L740.55 109.07L741.32 107.97L742.09 106.88L742.87 105.79L743.64 104.72L744.41 103.65L745.18 102.60L745.96 101.55L746.73 100.51L747.50 99.48L748.28 98.46L749.05 97.45L749.82 96.45L750.60 95.46L751.37 94.47L752.14 93.49L752.91 92.53L753.69 91.57L754.46 90.61L755.23 89.67L756.01 88.73L756.78 87.81L757.55 86.88L758.33 85.97L759.11 85.06L759.88 84.16L760.66 83.26L761.45 82.36L762.23 81.47L763.02 80.59L763.81 79.70L764.60 78.82L765.39 77.94L766.19 77.07L766.99 76.19L767.80 75.32L768.61 74.44L769.42 73.57L770.24 72.70L771.07 71.82L771.89 70.95L772.73 70.07L773.57 69.19L774.41 68.31L775.27 67.42L776.12 66.53L776.99 65.64L777.86 64.74L778.74 63.84L779.62 62.93L780.52 62.02L781.42 61.10L782.32 60.18L783.24 59.24L784.17 58.30L785.10 57.35L786.04 56.40L787.00 55.43L787.96 54.45L788.93 53.47L789.91 52.48L790.90 51.48L791.91 50.47L792.93 49.47L793.97 48.46L795.03 47.45L796.10 46.44L797.19 45.44L798.30 44.45L799.44 43.46L800.60 42.48L801.78 41.51L802.98 40.55L804.22 39.61L805.48 38.69L806.77 37.78L808.09 36.89L809.44 36.02L810.82 35.18L812.24 34.36L813.70 33.56L815.19 32.79L816.71 32.06L818.28 31.35L819.88 30.68L821.53 30.04L823.22 29.44L824.95 28.88L826.73 28.35L828.55 27.87L830.42 27.44L832.34 27.04L834.31 26.70L836.32 26.40L838.39 26.15L840.52 25.96L842.70 25.82L844.93 25.73L847.22 25.70" fill="none" stroke="#ff2b2b" stroke-width="1.3"/>
<path d="M507.10 279.26L509.39 278.87L511.62 278.48L513.80 278.10L515.93 277.73L518.00 277.36L520.01 276.99L521.98 276.63L523.90 276.27L525.77 275.92L527.59 275.57L529.37 275.22L531.10 274.88L532.79 274.54L534.44 274.20L536.04 273.87L537.61 273.54L539.13 273.22L540.62 272.89L542.08 272.58L543.50 272.26L544.88 271.95L546.23 271.64L547.55 271.33L548.84 271.02L550.10 270.72L551.34 270.42L552.54 270.12L553.72 269.83L554.88 269.53L556.02 269.24L557.13 268.95L558.22 268.66L559.29 268.38L560.35 268.09L561.39 267.81L562.41 267.52L563.42 267.24L564.41 266.96L565.39 266.68L566.36 266.41L567.32 266.13L568.28 265.85L569.22 265.58L570.15 265.30L571.08 265.02L572.00 264.75L572.90 264.47L573.80 264.19L574.70 263.92L575.58 263.64L576.46 263.36L577.33 263.08L578.20 262.80L579.05 262.51L579.91 262.23L580.75 261.94L581.59 261.65L582.43 261.36L583.25 261.07L584.08 260.77L584.90 260.47L585.71 260.17L586.52 259.86L587.33 259.55L588.13 259.24L588.93 258.92L589.72 258.60L590.51 258.28L591.30 257.95L592.09 257.61L592.87 257.28L593.66 256.93L594.44 256.58L595.21 256.23L595.99 255.87L596.77 255.51L597.54 255.14L598.31 254.76L599.09 254.38L599.86 253.99L600.63 253.59L601.41 253.19L602.18 252.78L602.95 252.37L603.73 251.95L604.50 251.53L605.27 251.10L606.04 250.67L606.82 250.23L607.59 249.79L608.36 249.34L609.14 248.89L609.91 248.44L610.68 247.98L611.45 247.52L612.23 247.06L613.00 246.59L613.77 246.13L614.55 245.66L615.32 245.19L616.09 244.72L616.87 244.25L617.64 243.77L618.41 243.30L619.18 242.83L619.96 242.35L620.73 241.88L621.50 241.41L622.28 240.93L623.05 240.46L623.82 239.99L624.60 239.52L625.37 239.06L626.14 238.59L626.92 238.13L627.69 237.67L628.46 237.22L629.23 236.76L630.01 236.31L630.78 235.87L631.55 235.42L632.33 234.98L633.10 234.55L633.87 234.11L634.64 233.68L635.42 233.25L636.19 232.82L636.96 232.40L637.74 231.97L638.51 231.54L639.28 231.11L640.06 230.68L640.83 230.25L641.60 229.82L642.37 229.38L643.15 228.95L643.92 228.50L644.69 228.06L645.47 227.61L646.24 227.15L647.01 226.69L647.79 226.23L648.56 225.75L649.33 225.28L650.10 224.79L650.88 224.30L651.65 223.80L652.42 223.29L653.20 222.77L653.97 222.24L654.74 221.70L655.52 221.15L656.29 220.60L657.06 220.03L657.84 219.45L658.61 218.85L659.38 218.25L660.15 217.63L660.93 216.99L661.70 216.35L662.47 215.69L663.25 215.01L664.02 214.32L664.79 213.62L665.57 212.90L666.34 212.16L667.11 211.41L667.88 210.65L668.66 209.87L669.43 209.07L670.20 208.26L670.98 207.44L671.75 206.60L672.52 205.74L673.30 204.86L674.07 203.97L674.84 203.07L675.61 202.14L676.39 201.21L677.16 200.25L677.93 199.28L678.71 198.29L679.48 197.28L680.25 196.26L681.02 195.22L681.80 194.16L682.57 193.09L683.34 192.00L684.12 190.89L684.89 189.76L685.66 188.61L686.44 187.45L687.21 186.27L687.98 185.07L688.76 183.85L689.53 182.62L690.30 181.36L691.07 180.09L691.85 178.80L692.62 177.49L693.39 176.16L694.17 174.81L694.94 173.44L695.71 172.06L696.49 170.67L697.26 169.26L698.03 167.83L698.80 166.39L699.58 164.95L700.35 163.49L701.12 162.01L701.90 160.53L702.67 159.05L703.44 157.55L704.22 156.05L704.99 154.54L705.76 153.03L706.53 151.51L707.31 149.99L708.08 148.47L708.85 146.95L709.63 145.42L710.40 143.90L711.17 142.38L711.95 140.86L712.72 139.34L713.49 137.83L714.26 136.32L715.04 134.82L715.81 133.33L716.58 131.84L717.36 130.36L718.13 128.89L718.90 127.43L719.67 125.98L720.45 124.54L721.22 123.12L721.99 121.71L722.77 120.31L723.54 118.93L724.31 117.57L725.09 116.22L725.86 114.89L726.63 113.57L727.41 112.27L728.18 110.99L728.95 109.72L729.72 108.47L730.50 107.23L731.27 106.01L732.04 104.80L732.82 103.61L733.59 102.43L734.36 101.26L735.13 100.12L735.91 98.98L736.68 97.86L737.45 96.76L738.23 95.67L739.00 94.59L739.77 93.53L740.55 92.48L741.32 91.44L742.09 90.42L742.87 89.41L743.64 88.41L744.41 87.43L745.18 86.46L745.96 85.51L746.73 84.56L747.50 83.63L748.28 82.71L749.05 81.81L749.82 80.91L750.60 80.03L751.37 79.16L752.14 78.30L752.91 77.46L753.69 76.62L754.46 75.80L755.23 74.99L756.01 74.19L756.78 73.40L757.55 72.62L758.33 71.85L759.11 71.09L759.88 70.34L760.66 69.59L761.45 68.86L762.23 68.13L763.02 67.40L763.81 66.69L764.60 65.98L765.39 65.27L766.19 64.57L766.99 63.87L767.80 63.18L768.61 62.49L769.42 61.81L770.24 61.13L771.07 60.44L771.89 59.76L772.73 59.09L773.57 58.41L774.41 57.73L775.27 57.05L776.12 56.37L776.99 55.69L777.86 55.01L778.74 54.33L779.62 53.64L780.52 52.95L781.42 52.26L782.32 51.56L783.24 50.86L784.17 50.15L785.10 49.44L786.04 48.72L787.00 48.00L787.96 47.27L788.93 46.53L789.91 45.78L790.90 45.03L791.91 44.28L792.93 43.52L793.97 42.77L795.03 42.01L796.10 41.26L797.19 40.51L798.30 39.76L799.44 39.02L800.60 38.28L801.78 37.56L802.98 36.84L804.22 36.13L805.48 35.44L806.77 34.76L808.09 34.09L809.44 33.44L810.82 32.81L812.24 32.19L813.70 31.60L815.19 31.02L816.71 30.47L818.28 29.94L819.88 29.43L821.53 28.96L823.22 28.51L824.95 28.08L826.73 27.69L828.55 27.33L830.42 27.00L832.34 26.71L834.31 26.45L836.32 26.22L838.39 26.04L840.52 25.89L842.70 25.79L844.93 25.72L847.22 25.70" fill="none" stroke="#1a72e6" stroke-width="1.5" stroke-dasharray="5.9 5.8"/>
<rect x="503.95" y="270.88" width="6.30" height="6.30" fill="#404040"/>
<rect x="534.87" y="265.65" width="6.30" height="6.30" fill="#404040"/>
<rect x="565.79" y="257.81" width="6.30" height="6.30" fill="#404040"/>
<rect x="596.71" y="244.74" width="6.30" height="6.30" fill="#404040"/>
<rect x="627.63" y="226.44" width="6.30" height="6.30" fill="#404040"/>
<rect x="658.55" y="202.92" width="6.30" height="6.30" fill="#404040"/>
<rect x="689.47" y="166.32" width="6.30" height="6.30" fill="#404040"/>
<rect x="720.39" y="95.74" width="6.30" height="6.30" fill="#404040"/>
<rect x="751.31" y="59.15" width="6.30" height="6.30" fill="#404040"/>
<rect x="782.23" y="40.85" width="6.30" height="6.30" fill="#404040"/>
<rect x="813.15" y="22.55" width="6.30" height="6.30" fill="#404040"/>
<rect x="844.07" y="22.55" width="6.30" height="6.30" fill="#404040"/>
<path d="M507.10 276.97L511.70 284.37L502.50 284.37Z" fill="#ff2b2b"/>
<path d="M538.02 274.36L542.62 281.76L533.42 281.76Z" fill="#ff2b2b"/>
<path d="M568.94 269.13L573.54 276.53L564.34 276.53Z" fill="#ff2b2b"/>
<path d="M599.86 261.29L604.46 268.69L595.26 268.69Z" fill="#ff2b2b"/>
<path d="M630.78 248.22L635.38 255.62L626.18 255.62Z" fill="#ff2b2b"/>
<path d="M661.70 224.69L666.30 232.09L657.10 232.09Z" fill="#ff2b2b"/>
<path d="M692.62 190.71L697.22 198.11L688.02 198.11Z" fill="#ff2b2b"/>
<path d="M723.54 127.97L728.14 135.37L718.94 135.37Z" fill="#ff2b2b"/>
<path d="M754.46 83.54L759.06 90.94L749.86 90.94Z" fill="#ff2b2b"/>
<path d="M785.38 52.17L789.98 59.57L780.78 59.57Z" fill="#ff2b2b"/>
<path d="M816.30 20.80L820.90 28.20L811.70 28.20Z" fill="#ff2b2b"/>
<path d="M847.22 20.80L851.82 28.20L842.62 28.20Z" fill="#ff2b2b"/>
<circle cx="507.10" cy="279.26" r="3.95" fill="url(#ballg)"/>
<circle cx="538.02" cy="274.03" r="3.95" fill="url(#ballg)"/>
<circle cx="568.94" cy="266.19" r="3.95" fill="url(#ballg)"/>
<circle cx="599.86" cy="255.73" r="3.95" fill="url(#ballg)"/>
<circle cx="630.78" cy="234.82" r="3.95" fill="url(#ballg)"/>
<circle cx="661.70" cy="220.18" r="3.95" fill="url(#ballg)"/>
<circle cx="692.62" cy="182.54" r="3.95" fill="url(#ballg)"/>
<circle cx="723.54" cy="114.58" r="3.95" fill="url(#ballg)"/>
<circle cx="754.46" cy="72.75" r="3.95" fill="url(#ballg)"/>
<circle cx="785.38" cy="49.23" r="3.95" fill="url(#ballg)"/>
<circle cx="816.30" cy="25.70" r="3.95" fill="url(#ballg)"/>
<circle cx="847.22" cy="25.70" r="3.95" fill="url(#ballg)"/>
<rect x="479.30" y="2.40" width="383.10" height="308.20" fill="none" stroke="#000" stroke-width="1.6"/>
<path d="M507.10 310.60V304.60M538.02 310.60V304.60M568.94 310.60V304.60M599.86 310.60V304.60M630.78 310.60V304.60M661.70 310.60V304.60M692.62 310.60V304.60M723.54 310.60V304.60M754.46 310.60V304.60M785.38 310.60V304.60M816.30 310.60V304.60M847.22 310.60V304.60M479.30 287.10H485.30M479.30 234.82H485.30M479.30 182.54H485.30M479.30 130.26H485.30M479.30 77.98H485.30M479.30 25.70H485.30" stroke="#000" stroke-width="1.4" fill="none"/>
<text transform="translate(507.10 327.70) scale(1 1.035)" text-anchor="middle" font-size="13.35" style="font-family:'Liberation Serif',serif;font-weight:bold">0.075</text>
<text transform="translate(538.02 327.70) scale(1 1.035)" text-anchor="middle" font-size="13.35" style="font-family:'Liberation Serif',serif;font-weight:bold">0.15</text>
<text transform="translate(568.94 327.70) scale(1 1.035)" text-anchor="middle" font-size="13.35" style="font-family:'Liberation Serif',serif;font-weight:bold">0.3</text>
<text transform="translate(599.86 327.70) scale(1 1.035)" text-anchor="middle" font-size="13.35" style="font-family:'Liberation Serif',serif;font-weight:bold">0.6</text>
<text transform="translate(630.78 327.70) scale(1 1.035)" text-anchor="middle" font-size="13.35" style="font-family:'Liberation Serif',serif;font-weight:bold">1.18</text>
<text transform="translate(661.70 327.70) scale(1 1.035)" text-anchor="middle" font-size="13.35" style="font-family:'Liberation Serif',serif;font-weight:bold">2.36</text>
<text transform="translate(692.62 327.70) scale(1 1.035)" text-anchor="middle" font-size="13.35" style="font-family:'Liberation Serif',serif;font-weight:bold">4.75</text>
<text transform="translate(723.54 327.70) scale(1 1.035)" text-anchor="middle" font-size="13.35" style="font-family:'Liberation Serif',serif;font-weight:bold">9.5</text>
<text transform="translate(754.46 327.70) scale(1 1.035)" text-anchor="middle" font-size="13.35" style="font-family:'Liberation Serif',serif;font-weight:bold">13.2</text>
<text transform="translate(785.38 327.70) scale(1 1.035)" text-anchor="middle" font-size="13.35" style="font-family:'Liberation Serif',serif;font-weight:bold">16</text>
<text transform="translate(816.30 327.70) scale(1 1.035)" text-anchor="middle" font-size="13.35" style="font-family:'Liberation Serif',serif;font-weight:bold">19</text>
<text transform="translate(847.22 327.70) scale(1 1.035)" text-anchor="middle" font-size="13.35" style="font-family:'Liberation Serif',serif;font-weight:bold">26.5</text>
<text transform="translate(472.90 291.20) scale(1 1.035)" text-anchor="end" font-size="13.35" style="font-family:'Liberation Serif',serif;font-weight:bold">0</text>
<text transform="translate(472.90 238.92) scale(1 1.035)" text-anchor="end" font-size="13.35" style="font-family:'Liberation Serif',serif;font-weight:bold">20</text>
<text transform="translate(472.90 186.64) scale(1 1.035)" text-anchor="end" font-size="13.35" style="font-family:'Liberation Serif',serif;font-weight:bold">40</text>
<text transform="translate(472.90 134.36) scale(1 1.035)" text-anchor="end" font-size="13.35" style="font-family:'Liberation Serif',serif;font-weight:bold">60</text>
<text transform="translate(472.90 82.08) scale(1 1.035)" text-anchor="end" font-size="13.35" style="font-family:'Liberation Serif',serif;font-weight:bold">80</text>
<text transform="translate(472.90 29.80) scale(1 1.035)" text-anchor="end" font-size="13.35" style="font-family:'Liberation Serif',serif;font-weight:bold">100</text>
<text transform="translate(451.60 156.40) rotate(-90)" text-anchor="middle" font-size="16.2" style="font-family:'Liberation Serif',serif;font-weight:bold">Passing(%)</text>
<text x="619.50" y="345.20" font-size="16.2" style="font-family:'Liberation Serif',serif;font-weight:bold">Sieve size(mm)</text>
<text x="824.30" y="295.90" font-size="22.1" style="font-family:'Liberation Serif',serif;font-weight:bold">(b)</text>
<path d="M485.20 13.30H516.10" stroke="#363636" stroke-width="1.2"/>
<rect x="497.35" y="10.05" width="6.50" height="6.50" fill="#404040"/>
<path d="M485.20 30.30H516.10" stroke="#ff2b2b" stroke-width="1.3"/>
<path d="M500.60 25.69L504.92 32.65L496.28 32.65Z" fill="#ff2b2b"/>
<path d="M485.20 47.10H491.00M509.20 47.10H515.00" stroke="#1a72e6" stroke-width="1.6"/>
<circle cx="500.60" cy="47.10" r="3.85" fill="url(#ballg)"/>
<text x="520.20" y="17.50" font-size="13.5" style="font-family:'Liberation Serif',serif;font-weight:bold">Upper limit</text>
<text x="520.20" y="34.80" font-size="13.5" style="font-family:'Liberation Serif',serif;font-weight:bold">Lower limit</text>
<text x="520.20" y="51.60" font-size="13.5" style="font-family:'Liberation Serif',serif;font-weight:bold">Design gradation</text>
</svg>
</body></html>
